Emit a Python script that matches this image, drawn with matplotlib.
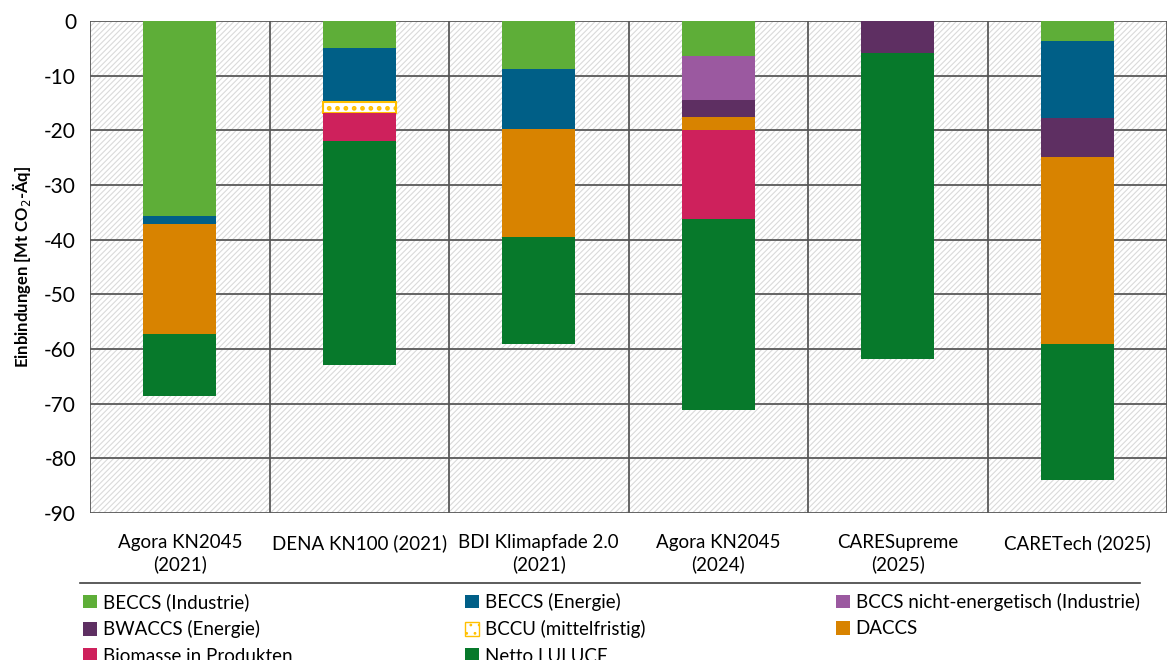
import matplotlib
matplotlib.use("Agg")
import matplotlib.pyplot as plt
from matplotlib.patches import Rectangle, Patch
from matplotlib.lines import Line2D
import numpy as np

plt.rcParams['font.family'] = ['Lato', 'DejaVu Sans']
plt.rcParams['hatch.linewidth'] = 0.8

# Szenarien
szenarien = ["Agora KN2045\n(2021)", "DENA KN100 (2021)", "BDI Klimapfade 2.0\n(2021)",
             "Agora KN2045\n(2024)", "CARESupreme\n(2025)", "CARETech (2025)"]

# Einbindungen in Mt CO2-Äq (negativ), je Kategorie
beccs_ind = [-35.7, -4.9, -8.8, -6.4, 0.0, -3.7]
beccs_en = [-1.4, -9.9, -11.0, 0.0, 0.0, -14.0]
bccs_ne = [0.0, 0.0, 0.0, -8.0, 0.0, 0.0]
bwaccs = [0.0, 0.0, 0.0, -3.2, -5.9, -7.2]
bccu = [0.0, -2.0, 0.0, 0.0, 0.0, 0.0]
daccs = [-20.1, 0.0, -19.7, -2.3, 0.0, -34.2]
biomasse = [0.0, -5.1, 0.0, -16.3, 0.0, 0.0]
lulucf = [-11.4, -41.0, -19.6, -35.0, -55.9, -24.9]

namen = ["BECCS (Industrie)", "BECCS (Energie)", "BCCS nicht-energetisch (Industrie)",
         "BWACCS (Energie)", "BCCU (mittelfristig)", "DACCS",
         "Biomasse in Produkten", "Netto LULUCF"]
farben = ["#5EAE38", "#005F87", "#9B59A0", "#5E2F62", "white", "#D88300", "#CE215C", "#07792B"]

reihen = [beccs_ind, beccs_en, bccs_ne, bwaccs, bccu, daccs, biomasse, lulucf]

fig = plt.figure(figsize=(11.67, 6.6), dpi=100)
ax = fig.add_axes([90 / 1167, 1 - 513 / 660, 1 - 90 / 1167, (513 - 21) / 660])

x = np.arange(len(szenarien))
ax.set_xlim(-0.5, len(szenarien) - 0.5)
ax.set_ylim(-90, 0)

# schraffierter Hintergrund
bg = Rectangle((0, 0), 1, 1, transform=ax.transAxes, facecolor="white",
               edgecolor="#dadada", hatch="//////", linewidth=0, zorder=0)
ax.add_patch(bg)

bottom = np.zeros(len(szenarien))
for werte, farbe, name in zip(reihen, farben, namen):
    werte = np.array(werte)
    m = werte != 0
    if name.startswith("BCCU"):
        with plt.rc_context({'hatch.linewidth': 2.2}):
            ax.bar(x[m], werte[m], 0.405, bottom=bottom[m], color="white", edgecolor="#FFC000",
                   hatch="..", linewidth=1.5, zorder=3)
    else:
        ax.bar(x[m], werte[m], 0.405, bottom=bottom[m], color=farbe, linewidth=0, zorder=3)
    bottom = bottom + werte

# Gitterlinien
for yv in range(-90, 1, 10):
    ax.axhline(yv, color="#595959", linewidth=1.3, zorder=1)
for xv in np.arange(-0.5, len(szenarien), 1.0):
    ax.axvline(xv, color="#595959", linewidth=1.3, zorder=1)

for s in ax.spines.values():
    s.set_visible(False)

ax.set_yticks(range(-90, 1, 10))
ax.set_yticklabels([str(v) for v in range(-90, 1, 10)], fontsize=15)
ax.set_xticks(x)
ax.set_xticklabels(szenarien, fontsize=13.5, linespacing=1.3)
ax.tick_params(length=0)
ax.tick_params(axis='x', pad=15)
ax.tick_params(axis='y', pad=10)
ax.set_ylabel("Einbindungen [Mt CO$_2$-Äq]", fontsize=12, fontweight="bold", labelpad=8)

# Linie über der Legende
fig.add_artist(Line2D([80 / 1167, 1140 / 1167], [1 - 583 / 660, 1 - 583 / 660],
                      color="#404040", linewidth=1.2))

handles = []
for farbe, name in zip(farben, namen):
    if name.startswith("BCCU"):
        with plt.rc_context({'hatch.linewidth': 2.2}):
            handles.append(Patch(facecolor="white", edgecolor="#FFC000", hatch="..", label=name))
    else:
        handles.append(Patch(facecolor=farbe, edgecolor="none", label=name))

spalten_x = [83, 465, 836]
for i, sx in enumerate(spalten_x):
    h = handles[i::3]
    fig.legend(handles=h, loc="upper left", bbox_to_anchor=(sx / 1167, 1 - 593 / 660),
               frameon=False, fontsize=13.5, handlelength=0.75, handleheight=0.75,
               handletextpad=0.3, labelspacing=0.5, borderaxespad=0, borderpad=0)

fig.savefig("out.png", dpi=100)
